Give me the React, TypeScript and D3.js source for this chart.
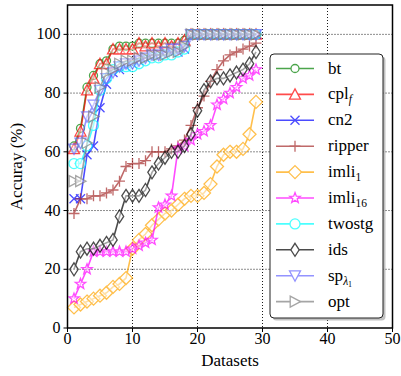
import React from "react";
import * as d3 from "d3";

const xs = d3.range(1, 30);
const bt = [62, 68, 82, 86, 90, 91, 95, 96, 96, 96, 97, 97, 97, 97, 97, 97, 97, 98, 100, 100, 100, 100, 100, 100, 100, 100, 100, 100, 100];
const cplf = [61, 67, 81, 85, 90, 90, 95, 95, 95, 95, 97, 96, 97, 96, 97, 96, 97, 98, 100, 100, 100, 100, 100, 100, 100, 100, 100, 100, 100];
const cn2 = [44, 44, 59, 62, 75, 83, 87, 88, 89, 90, 91, 92, 93, 93, 94, 94, 94, 95, 100, 100, 100, 100, 100, 100, 100, 100, 100, 100, 100];
const ripper = [39, 44, 44, 45, 45, 46, 47, 50, 55, 56, 56, 57, 60, 60, 60, 61, 62, 64, 69, 75, 79, 84, 88, 91, 93, 94, 95, 96, 97];
const imli1 = [7, 8, 9, 10, 11, 12, 14, 15, 17, 27, 30, 32, 35, 37, 39, 40, 42, 44, 45, 45, 46, 49, 55, 59, 60, 60, 61, 66, 77];
const imli16 = [10, 15, 20, 26, 26, 26, 26, 26, 26, 27, 28, 29, 30, 41, 42, 45, 61, 62, 64, 66, 67, 69, 76, 78, 80, 82, 85, 86, 88];
const twostg = [56, 56, 62, 69, 81, 85, 88, 89, 89, 89, 90, 91, 92, 92, 93, 93, 94, 95, 100, 100, 100, 100, 100, 100, 100, 100, 100, 100, 100];
const ids = [20, 26, 27, 27, 28, 29, 30, 38, 45, 45, 45, 47, 53, 56, 58, 60, 60, 62, 66, 74, 81, 84, 85, 85, 86, 87, 88, 90, 94];
const sp = [61, 63, 72, 76, 81, 85, 87, 89, 90, 90, 91, 92, 93, 93, 94, 95, 95, 96, 100, 100, 100, 100, 100, 100, 100, 100, 100, 100, 100];
const opt = [50, 50, 63, 72, 82, 87, 88, 90, 91, 91, 92, 92, 93, 93, 93, 94, 94, 96, 100, 100, 100, 100, 100, 100, 100, 100, 100, 100, 100];

const xTicks = [0, 10, 20, 30, 40, 50];
const yTicks = [0, 20, 40, 60, 80, 100];

type Shape = "circle" | "triUp" | "x" | "plus" | "diamond" | "star" | "circleL" | "thinDiamond" | "triDown" | "triRight";

const seriesList: { name: string; values: number[]; color: string; shape: Shape }[] = [
  { name: "bt", values: bt, color: "#008000", shape: "circle" },
  { name: "cplf", values: cplf, color: "#ff0000", shape: "triUp" },
  { name: "cn2", values: cn2, color: "#0000ff", shape: "x" },
  { name: "ripper", values: ripper, color: "#a52a2a", shape: "plus" },
  { name: "imli1", values: imli1, color: "#ffa500", shape: "diamond" },
  { name: "imli16", values: imli16, color: "#ff00ff", shape: "star" },
  { name: "twostg", values: twostg, color: "#00ffff", shape: "circleL" },
  { name: "ids", values: ids, color: "#000000", shape: "thinDiamond" },
  { name: "sp", values: sp, color: "#6666ff", shape: "triDown" },
  { name: "opt", values: opt, color: "#808080", shape: "triRight" },
];

function markerPath(shape: Shape): string {
  switch (shape) {
    case "circle": {
      const r = 4;
      return `M${r},0A${r},${r} 0 1,1 ${-r},0A${r},${r} 0 1,1 ${r},0Z`;
    }
    case "circleL": {
      const r = 5;
      return `M${r},0A${r},${r} 0 1,1 ${-r},0A${r},${r} 0 1,1 ${r},0Z`;
    }
    case "triUp":
      return "M0,-5.5L5.5,4.8L-5.5,4.8Z";
    case "triDown":
      return "M0,5.5L5.5,-4.8L-5.5,-4.8Z";
    case "triRight":
      return "M5.5,0L-4.8,5.5L-4.8,-5.5Z";
    case "x":
      return "M-4.5,-4.5L4.5,4.5M-4.5,4.5L4.5,-4.5";
    case "plus":
      return "M-5.5,0L5.5,0M0,-5.5L0,5.5";
    case "diamond":
      return "M0,-6.5L6.5,0L0,6.5L-6.5,0Z";
    case "thinDiamond":
      return "M0,-6.5L4.2,0L0,6.5L-4.2,0Z";
    case "star": {
      const pts: string[] = [];
      for (let i = 0; i < 10; i++) {
        const r = i % 2 === 0 ? 5.5 : 2.3;
        const a = -Math.PI / 2 + (i * Math.PI) / 5;
        pts.push(`${(r * Math.cos(a)).toFixed(2)},${(r * Math.sin(a)).toFixed(2)}`);
      }
      return "M" + pts.join("L") + "Z";
    }
  }
  return "";
}

const W = 401;
const H = 376;
const left = 67.5;
const right = 392.5;
const top = 5;
const bottom = 328;
const FONT = '"Liberation Serif", "DejaVu Serif", "Times New Roman", serif';
const fontStyle = { fontFamily: FONT };

function Label({ name, x, y }: { name: string; x: number; y: number }) {
  const fs = 17;
  const sub = 11.5;
  if (name === "cplf")
    return (
      <text x={x} y={y} fontSize={fs} style={fontStyle}>
        cpl<tspan fontSize={sub} dy={4} fontStyle="italic">f</tspan>
      </text>
    );
  if (name === "imli1")
    return (
      <text x={x} y={y} fontSize={fs} style={fontStyle}>
        imli<tspan fontSize={sub} dy={4}>1</tspan>
      </text>
    );
  if (name === "imli16")
    return (
      <text x={x} y={y} fontSize={fs} style={fontStyle}>
        imli<tspan fontSize={sub} dy={4}>16</tspan>
      </text>
    );
  if (name === "sp")
    return (
      <text x={x} y={y} fontSize={fs} style={fontStyle}>
        sp<tspan fontSize={sub} dy={4} fontStyle="italic">λ</tspan>
        <tspan fontSize={8} dy={2}>1</tspan>
      </text>
    );
  return (
    <text x={x} y={y} fontSize={fs} style={fontStyle}>
      {name}
    </text>
  );
}

export default function App() {
  const x = d3.scaleLinear().domain([0, 50]).range([left, right]);
  const y = d3.scaleLinear().domain([0, 110]).range([bottom, top]);
  const line = d3
    .line<number>()
    .x((_, i) => x(xs[i]))
    .y((d) => y(d));

  const legX = 270;
  const legY = 54;
  const legW = 113;
  const legH = 264;
  const rowY0 = 68.5;
  const rowStep = 25.9;

  return (
    <svg width={W} height={H} style={{ position: "absolute", left: 0, top: 0 }}>
      <rect x={0} y={0} width={W} height={H} fill="white" />
      {xTicks.slice(1, -1).map((t) => (
        <line key={"gx" + t} x1={x(t)} x2={x(t)} y1={top} y2={bottom} stroke="black" strokeWidth={0.9} strokeDasharray="1,2" />
      ))}
      {yTicks.slice(1).map((t) => (
        <line key={"gy" + t} x1={left} x2={right} y1={y(t)} y2={y(t)} stroke="black" strokeWidth={0.9} strokeDasharray="1,2" />
      ))}
      {seriesList.map((s) => (
        <g key={s.name} opacity={0.7}>
          <path d={line(s.values) || ""} fill="none" stroke={s.color} strokeWidth={1.6} />
          {s.values.map((v, i) => (
            <path
              key={i}
              d={markerPath(s.shape)}
              transform={`translate(${x(xs[i])},${y(v)})`}
              fill="white"
              fillOpacity={0.5}
              stroke={s.color}
              strokeWidth={1.3}
            />
          ))}
        </g>
      ))}
      <rect x={left} y={top} width={right - left} height={bottom - top} fill="none" stroke="black" strokeWidth={1.5} />
      {xTicks.map((t) => (
        <g key={"tx" + t}>
          <line x1={x(t)} x2={x(t)} y1={bottom} y2={bottom + 4} stroke="black" strokeWidth={1} />
          <text x={x(t)} y={344} textAnchor="middle" fontSize={16} style={fontStyle}>
            {t}
          </text>
        </g>
      ))}
      {yTicks.map((t) => (
        <g key={"ty" + t}>
          <line x1={left - 4} x2={left} y1={y(t)} y2={y(t)} stroke="black" strokeWidth={1} />
          <text x={left - 7} y={y(t) + 5} textAnchor="end" fontSize={16} style={fontStyle}>
            {t}
          </text>
        </g>
      ))}
      <text x={(left + right) / 2} y={366} textAnchor="middle" fontSize={17} style={fontStyle}>
        Datasets
      </text>
      <text
        transform={`translate(22,${(top + bottom) / 2}) rotate(-90)`}
        textAnchor="middle"
        fontSize={17}
        style={fontStyle}
      >
        Accuray (%)
      </text>
      <rect x={legX + 2.5} y={legY + 2.5} width={legW} height={legH} rx={4} fill="#999" opacity={0.6} />
      <rect x={legX} y={legY} width={legW} height={legH} rx={4} fill="white" stroke="#222" strokeWidth={1} />
      {seriesList.map((s, i) => {
        const ry = rowY0 + i * rowStep;
        return (
          <g key={"leg" + s.name}>
            <g opacity={0.7}>
              <line x1={276} x2={314} y1={ry} y2={ry} stroke={s.color} strokeWidth={1.6} />
              <path d={markerPath(s.shape)} transform={`translate(295,${ry})`} fill="white" stroke={s.color} strokeWidth={1.3} />
            </g>
            <Label name={s.name} x={328} y={ry + 5} />
          </g>
        );
      })}
    </svg>
  );
}
